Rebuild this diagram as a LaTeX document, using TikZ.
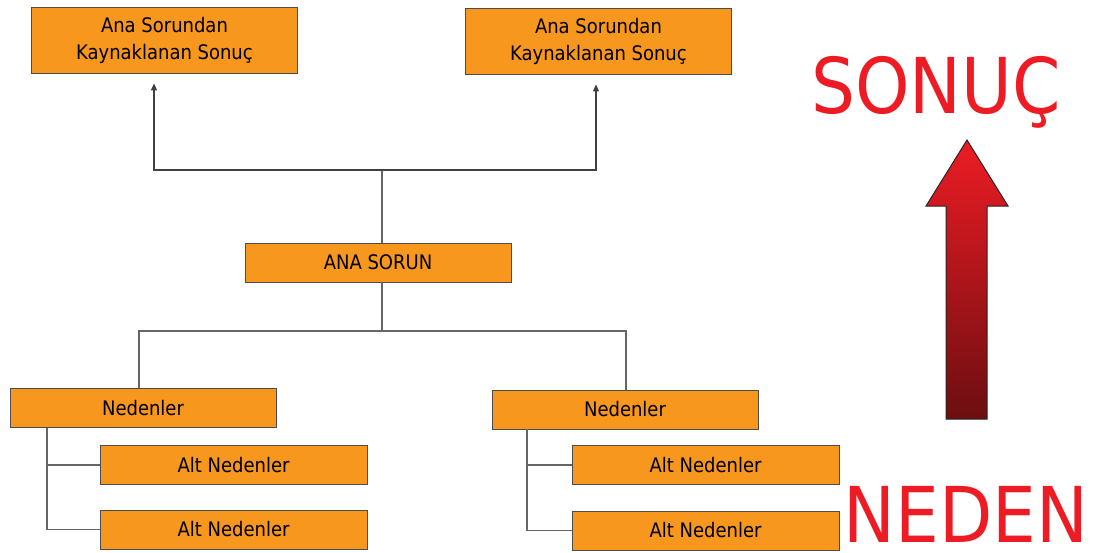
\documentclass[tikz,border=0pt]{standalone}
\usepackage{fontspec}
\setmainfont{DejaVu Sans Condensed}
\usepackage{xcolor}
\usetikzlibrary{arrows.meta, positioning, calc}
\definecolor{boxorange}{RGB}{247,151,30}
\definecolor{bigred}{RGB}{237,28,36}
\definecolor{darkred}{RGB}{108,14,16}

\begin{document}
\begin{tikzpicture}[x=1pt, y=-1pt,
    every node/.style={font=\fontsize{20}{27}\selectfont},
    kutu/.style={draw=black!70, line width=0.8pt, fill=boxorange, minimum width=266pt, minimum height=39pt, align=center, inner sep=0pt},
    ust/.style={kutu, minimum height=66pt},
    a/.style={-{Triangle[length=7pt, width=6pt]}, line width=1.2pt, draw=black!75, shorten >=10pt},
    ln/.style={line width=1.2pt, draw=black!60},
    big/.style={text=bigred, font=\fontsize{77}{80}\selectfont, inner sep=0pt, anchor=base}
]
\useasboundingbox (0,0) rectangle (1094,552);
\node[ust] (sonuc1) at (164.5,40)  {Ana Sorundan\\Kaynaklanan Sonuç};
\node[ust] (sonuc2) at (598.5,41)  {Ana Sorundan\\Kaynaklanan Sonuç};
\node[kutu] (ana)    at (378,262.5) {ANA SORUN};
\node[kutu] (neden1) at (143,408)   {Nedenler};
\node[kutu] (neden2) at (625,409.5) {Nedenler};
\node[kutu, minimum width=267pt] (alt11) at (233.5,465)   {Alt Nedenler};
\node[kutu, minimum width=267pt] (alt12) at (233.5,529.5) {Alt Nedenler};
\node[kutu, minimum width=267pt] (alt21) at (705.5,465)   {Alt Nedenler};
\node[kutu, minimum width=267pt] (alt22) at (705.5,530.5) {Alt Nedenler};
\coordinate (ustbag) at (382,170);
\coordinate (altbag) at (382,331);
\draw[ln] (ana.north -| ustbag) -- (ustbag);
\draw[a] (ustbag) -| ([xshift=-10.5pt]sonuc1.south);
\draw[a] (ustbag) -| ([xshift=-2.5pt]sonuc2.south);
\draw[ln] (ana.south -| altbag) -- (altbag);
\draw[ln] (altbag) -| ([xshift=-4pt]neden1.north);
\draw[ln] (altbag) -| ([xshift=1pt]neden2.north);
\draw[ln] ([xshift=-96pt]neden1.south) |- (alt11.west);
\draw[ln] ([xshift=-96pt]neden1.south) |- (alt12.west);
\draw[ln] ([xshift=-98pt]neden2.south) |- (alt21.west);
\draw[ln] ([xshift=-98pt]neden2.south) |- (alt22.west);
\shade[top color=bigred, bottom color=darkred, draw=black!85, line width=1pt]
  (946,419) -- (946,206) -- (926,206) -- (967,140) -- (1008,206) -- (987,206) -- (987,419) -- cycle;
\node[big] (sonuc) at (936,113) {SONUÇ};
\node[big] (neden) at (966,542) {NEDEN};
\end{tikzpicture}
\end{document}
